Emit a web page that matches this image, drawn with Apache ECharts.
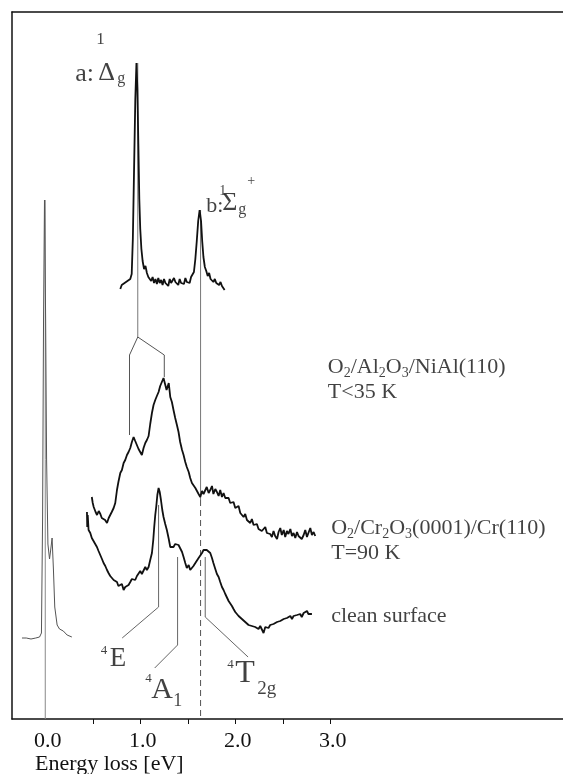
<!DOCTYPE html>
<html>
<head>
<meta charset="utf-8">
<script src="https://cdn.jsdelivr.net/npm/echarts@6/dist/echarts.min.js"></script>
<style>html,body{margin:0;padding:0;background:#fff;}#c{width:563px;height:774px;}</style>
</head>
<body>
<div id="c"></div>
<script>
// ---- data (energy loss in eV, intensity in arbitrary units, spectra offset) ----
const energyTicks = [0.5, 1, 1.5, 2, 2.5, 3];
const energyTickLabels = [0, 1, 2, 3];

const elasticPeak = [[-0.245,81],[-0.2,81],[-0.15,80],[-0.1,81],[-0.06,82],[-0.04,86],[-0.028,200],[-0.018,400],[-0.008,519],[0.004,400],[0.014,260],[0.028,175],[0.045,160],[0.056,168],[0.072,181],[0.086,150],[0.1,112],[0.125,94],[0.15,90],[0.19,88],[0.23,84],[0.28,82]];

const spectrumNiAl = [[0.79,430],[0.805,434],[0.82,432],[0.835,436],[0.85,434],[0.865,438],[0.88,437],[0.895,440],[0.91,445],[0.922,480],[0.935,550],[0.948,620],[0.96,656],[0.97,630],[0.98,575],[0.99,520],[1.0,490],[1.012,470],[1.025,458],[1.04,450],[1.055,453],[1.07,446],[1.085,442],[1.1,444],[1.115,438],[1.13,442],[1.145,436],[1.16,440],[1.175,435],[1.19,441],[1.205,436],[1.22,439],[1.235,434],[1.25,440],[1.265,436],[1.28,438],[1.295,433],[1.31,440],[1.325,436],[1.34,434],[1.355,441],[1.37,437],[1.385,439],[1.4,434],[1.415,440],[1.43,436],[1.445,438],[1.46,435],[1.475,441],[1.49,437],[1.505,439],[1.52,436],[1.535,442],[1.55,440],[1.565,447],[1.58,460],[1.595,478],[1.61,498],[1.625,509],[1.64,498],[1.652,478],[1.665,462],[1.68,452],[1.695,448],[1.71,443],[1.725,446],[1.74,440],[1.755,442],[1.77,437],[1.785,440],[1.8,436],[1.815,438],[1.83,434],[1.845,437],[1.86,433],[1.875,431],[1.888,429]];

const spectrumCr2O3 = [[0.49,222],[0.5,216],[0.51,212],[0.53,207],[0.545,204],[0.563,208],[0.58,205],[0.595,201],[0.615,203],[0.63,199],[0.65,196],[0.668,201],[0.685,203],[0.7,207],[0.72,211],[0.737,216],[0.755,229],[0.77,237],[0.79,246],[0.807,249],[0.825,256],[0.842,259],[0.86,264],[0.877,267],[0.895,271],[0.912,277],[0.93,282],[0.947,278],[0.965,276],[0.982,270],[1.0,268],[1.017,264],[1.035,271],[1.053,276],[1.07,279],[1.088,283],[1.105,295],[1.123,306],[1.14,314],[1.158,319],[1.175,323],[1.193,327],[1.21,333],[1.228,332],[1.245,341],[1.263,342],[1.277,329],[1.288,327],[1.3,336],[1.316,322],[1.333,317],[1.35,309],[1.368,301],[1.386,294],[1.403,287],[1.42,277],[1.44,269],[1.456,264],[1.474,257],[1.49,252],[1.51,247],[1.526,241],[1.544,236],[1.56,234],[1.58,231],[1.597,229],[1.614,225],[1.632,222],[1.65,228],[1.666,225],[1.684,227],[1.7,232],[1.72,226],[1.737,229],[1.755,233],[1.77,225],[1.79,230],[1.807,227],[1.825,223],[1.842,229],[1.86,222],[1.877,226],[1.895,221],[1.91,219],[1.93,221],[1.947,216],[1.965,214],[1.982,217],[2.0,211],[2.017,209],[2.035,213],[2.053,206],[2.07,204],[2.088,202],[2.105,205],[2.123,199],[2.14,197],[2.158,196],[2.175,200],[2.193,194],[2.21,192],[2.228,195],[2.245,190],[2.263,192],[2.28,188],[2.298,189],[2.316,192],[2.333,186],[2.35,188],[2.368,185],[2.386,182],[2.403,188],[2.42,183],[2.44,180],[2.456,187],[2.474,191],[2.49,184],[2.51,189],[2.526,182],[2.544,188],[2.56,185],[2.58,190],[2.597,183],[2.614,186],[2.632,181],[2.65,187],[2.666,183],[2.684,185],[2.7,180],[2.72,184],[2.737,189],[2.755,182],[2.77,186],[2.79,191],[2.807,184],[2.825,187],[2.842,183]];

const spectrumClean = [[0.439,207],[0.442,192],[0.447,204],[0.456,189],[0.474,186],[0.49,181],[0.508,179],[0.526,175],[0.544,172],[0.561,168],[0.579,166],[0.597,160],[0.614,156],[0.632,153],[0.65,149],[0.666,146],[0.684,143],[0.7,142],[0.72,139],[0.737,141],[0.755,137],[0.77,133],[0.79,132],[0.807,135],[0.825,129],[0.842,132],[0.86,130],[0.877,134],[0.895,137],[0.912,140],[0.93,142],[0.947,139],[0.965,143],[0.982,144],[1.0,148],[1.017,145],[1.035,147],[1.053,152],[1.07,149],[1.088,152],[1.105,159],[1.123,166],[1.137,179],[1.147,192],[1.158,204],[1.168,212],[1.18,224],[1.193,231],[1.205,227],[1.218,219],[1.232,209],[1.245,202],[1.263,195],[1.28,189],[1.298,181],[1.316,172],[1.333,170],[1.35,172],[1.368,175],[1.386,177],[1.403,174],[1.42,172],[1.44,167],[1.456,162],[1.474,156],[1.49,151],[1.51,154],[1.526,149],[1.544,149],[1.56,153],[1.58,156],[1.597,157],[1.614,161],[1.632,162],[1.65,166],[1.666,169],[1.684,170],[1.7,169],[1.72,168],[1.737,166],[1.755,161],[1.77,156],[1.79,150],[1.807,145],[1.825,142],[1.842,137],[1.86,132],[1.877,129],[1.895,125],[1.91,122],[1.93,118],[1.947,116],[1.965,113],[1.982,110],[2.0,107],[2.017,106],[2.035,103],[2.053,104],[2.07,100],[2.088,101],[2.105,97],[2.123,98],[2.14,94],[2.158,96],[2.175,93],[2.193,95],[2.21,92],[2.228,94],[2.245,90],[2.263,93],[2.28,91],[2.298,86],[2.316,92],[2.333,93],[2.35,91],[2.368,94],[2.386,92],[2.403,95],[2.42,93],[2.44,97],[2.456,95],[2.474,98],[2.49,96],[2.51,100],[2.526,98],[2.544,101],[2.56,99],[2.58,103],[2.597,100],[2.614,103],[2.632,101],[2.65,104],[2.666,102],[2.684,105],[2.7,102],[2.72,106],[2.737,104],[2.755,108],[2.77,105],[2.79,107],[2.807,105]];

// guide lines (peak assignments)
const guideZero = [[0,519],[0,0]];
const guideA = [[0.974,656],[0.974,382]];
const guideSplit = [[0.887,284],[0.887,364],[0.974,382],[1.253,364],[1.253,342]];
const guideBSolid = [[1.635,509],[1.635,219]];
const guideBDashed = [[1.635,219],[1.635,0]];
const guide4E = [[1.193,214],[1.193,112],[0.81,81]];
const guide4A1 = [[1.393,162],[1.393,74],[1.152,51]];
const guide4T2g = [[1.684,162],[1.684,102],[2.135,62]];

// peak labels: [energy, intensity, text, fontSize]
const peakLabels = [
  [0.316,645,'a:',26],[0.537,679,'1',17],[0.558,646,'Δ',26],[0.758,640,'g',16],
  [1.695,513,'b:',22],[1.831,528,'1',14],[1.863,516,'Σ',26],[2.032,509,'g',16],[2.126,538,'+',14],
  [0.584,68,'4',13],[0.679,60,'E',27],
  [1.053,40,'4',13],[1.116,29,'A',30],[1.347,18,'1',18],
  [1.916,54,'4',13],[2.0,45,'T',32],[2.232,30,'2g',19]
];
// sample labels: [energy, intensity, rich text]
const sampleLabels = [
  [2.974,339,'{t|O}{s|2}{t|/Al}{s|2}{t|O}{s|3}{t|/NiAl(110)}\n{t|T<35 K}'],
  [3.01,178,'{t|O}{s|2}{t|/Cr}{s|2}{t|O}{s|3}{t|(0001)/Cr(110)}\n{t|T=90 K}'],
  [3.01,103,'{t|clean surface}']
];
const xAxisTitle = 'Energy loss [eV]';

// ---- chart ----
const FONT = '"Liberation Serif", "Times New Roman", serif';
const chart = echarts.init(document.getElementById('c'), null, {renderer:'canvas'});

function line(data, color, width, dashed) {
  return {type:'line', data:data, showSymbol:false, symbol:'none', silent:true,
    lineStyle:{color:color, width:width, type: dashed ? [6,4] : 'solid'}, z: 2};
}
function textPoint(e, i, fmt, fontSize, rich) {
  return {value:[e,i], label:{show:true, position:'inside', align:'left', verticalAlign:'middle',
    formatter: fmt, fontFamily: FONT, fontSize: fontSize, color:'#111', rich: rich}};
}
const richSample = {
  t:{fontFamily:FONT, fontSize:22, lineHeight:25, color:'#111'},
  s:{fontFamily:FONT, fontSize:14, lineHeight:12, verticalAlign:'bottom', color:'#111'}
};

const annotationData = peakLabels.map(p => textPoint(p[0], p[1], p[2], p[3]))
  .concat(sampleLabels.map(p => textPoint(p[0], p[1], p[2], 22, richSample)));

chart.setOption({
  animation:false,
  backgroundColor:'#fff',
  grid:{left:12, right:0, top:12, bottom:55, containLabel:false, outerBoundsMode:'none'},
  xAxis:[{
    type:'value', min:-0.35, max:5.45, position:'bottom',
    axisLine:{show:true, onZero:false, lineStyle:{color:'#111', width:1.5}},
    axisTick:{show:true, inside:false, length:5, customValues: energyTicks, lineStyle:{color:'#111'}},
    axisLabel:{show:true, customValues: energyTickLabels, formatter: v => Number(v).toFixed(1),
      fontFamily:FONT, fontSize:22, color:'#111', margin:11, padding:[0,0,0,5]},
    splitLine:{show:false}
  },{
    type:'value', min:-0.35, max:5.45, position:'top',
    axisLine:{show:true, onZero:false, lineStyle:{color:'#111', width:1.5}},
    axisTick:{show:false}, axisLabel:{show:false}, splitLine:{show:false}
  }],
  yAxis:{
    type:'value', min:0, max:707, position:'left',
    axisLine:{show:true, onZero:false, lineStyle:{color:'#111', width:1.5}},
    axisTick:{show:false}, axisLabel:{show:false}, splitLine:{show:false}
  },
  graphic:[{type:'text', x:35, y:764, style:{text:xAxisTitle, font:'22px ' + FONT, fill:'#111', align:'left', verticalAlign:'middle'}}],
  series:[
    line(guideZero, '#888', 1),
    line(guideA, '#777', 1),
    line(guideSplit, '#555', 1),
    line(guideBSolid, '#777', 1),
    line(guideBDashed, '#555', 1, true),
    line(guide4E, '#666', 1),
    line(guide4A1, '#666', 1),
    line(guide4T2g, '#666', 1),
    line(elasticPeak, '#555', 1),
    line(spectrumNiAl, '#111', 1.8),
    line(spectrumCr2O3, '#111', 1.8),
    line(spectrumClean, '#111', 1.8),
    {type:'scatter', data: annotationData, symbolSize:1, itemStyle:{color:'rgba(0,0,0,0)'}, silent:true, z:5}
  ]
});
</script>
</body>
</html>
